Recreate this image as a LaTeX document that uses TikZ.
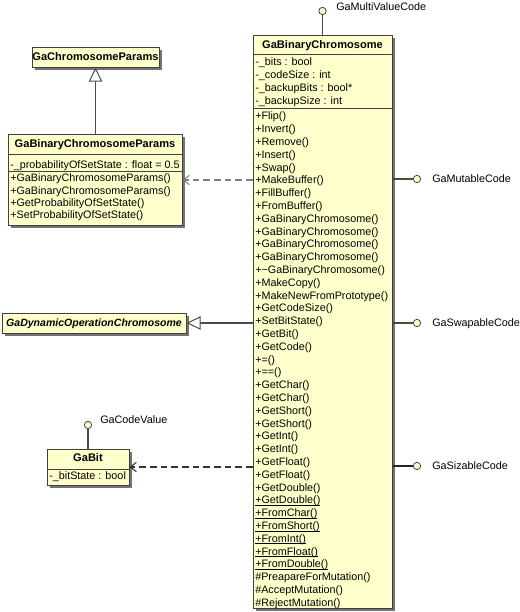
\documentclass[tikz,border=0pt]{standalone}
\usepackage{fontspec}
\setmainfont{Liberation Sans}
\usetikzlibrary{arrows.meta,fit,shadows}
\definecolor{boxfill}{HTML}{FFFFCC}
\definecolor{boxline}{HTML}{404040}
\newcommand\myul[1]{\setbox0\hbox{#1}\rlap{\rule[-1.5pt]{\wd0}{0.55pt}}\box0}
\tikzset{
 cls/.style={draw=boxline, fill=boxfill, line width=0.75pt, inner sep=0pt,
   drop shadow={fill=black!55, opacity=1, shadow xshift=2pt, shadow yshift=-2pt}},
 txt/.style={inner sep=0pt, anchor=base west, font=\fontsize{8.1pt}{9.6pt}\selectfont},
 ttl/.style={inner sep=0pt, anchor=base, font=\fontsize{8.3pt}{9.6pt}\selectfont\bfseries},
 lolli/.style={circle, draw=boxline, fill=boxfill, line width=0.6pt, minimum size=5.5pt, inner sep=0pt},
 sepline/.style={draw=boxline, line width=0.75pt},
 conn/.style={draw=black!70, line width=0.8pt},
 gen/.style={conn, -{Triangle[length=10.5pt,width=10pt,fill=white,line width=0.75pt]}},
 dep/.style={draw=black!50, line width=0.8pt, dash pattern=on 5pt off 3pt,
   -{Straight Barb[length=4.5pt,width=7pt]}},
}
\begin{document}
\begin{tikzpicture}[x=0.75pt,y=-0.75pt]
\useasboundingbox (0,0) rectangle (519,612);

% main class
\node[cls, fit={(253,35) (392,608)}] (main) {};
\draw[sepline] (253,54.5) -- (392,54.5);
\draw[sepline] (253,108.5) -- (392,108.5);
\node[ttl] (mainT) at (322.5,48.8) {GaBinaryChromosome};
\foreach \t [count=\i from 0] in {-\_bits : bool,-\_codeSize : int,-\_backupBits : bool*,-\_backupSize : int}
  \node[txt] (ma\i) at (255,{62+\i*12.8+3.8}) {\t};
\foreach \t [count=\i from 0] in {+Flip(),+Invert(),+Remove(),+Insert(),+Swap(),+MakeBuffer(),+FillBuffer(),+FromBuffer(),
  +GaBinaryChromosome(),+GaBinaryChromosome(),+GaBinaryChromosome(),+GaBinaryChromosome(),
  +\textasciitilde GaBinaryChromosome(),+MakeCopy(),+MakeNewFromPrototype(),+GetCodeSize(),+SetBitState(),
  +GetBit(),+GetCode(),+=(),+==(),+GetChar(),+GetChar(),+GetShort(),+GetShort(),+GetInt(),+GetInt(),
  +GetFloat(),+GetFloat(),+GetDouble(),\myul{+GetDouble()},\myul{+FromChar()},\myul{+FromShort()},
  \myul{+FromInt()},\myul{+FromFloat()},\myul{+FromDouble()},
  \#PreapareForMutation(),\#AcceptMutation(),\#RejectMutation()}
  \node[txt] (mm\i) at (255,{116+\i*12.8+3.8}) {\t};

% GaChromosomeParams
\node[cls, fit={(32,47) (159,67)}] (cparams) {};
\node[ttl] (cparamsT) at (95.5,60.8) {GaChromosomeParams};

% GaBinaryChromosomeParams
\node[cls, fit={(8,134) (182,225)}] (params) {};
\draw[sepline] (8,154.5) -- (182,154.5);
\draw[sepline] (8,171) -- (182,171);
\node[ttl] (paramsT) at (95,147.8) {GaBinaryChromosomeParams};
\node[txt] (pa0) at (10,168.3) {-\_probabilityOfSetState : float = 0.5};
\foreach \t [count=\i from 0] in {+GaBinaryChromosomeParams(),+GaBinaryChromosomeParams(),+GetProbabilityOfSetState(),+SetProbabilityOfSetState()}
  \node[txt] (pm\i) at (10,{178+\i*12.2+3.8}) {\t};

% GaDynamicOperationChromosome
\node[cls, fit={(2,313) (186,333)}] (dyn) {};
\node[ttl, font=\fontsize{7.9pt}{9.6pt}\selectfont\bfseries\itshape] (dynT) at (94,326.8) {GaDynamicOperationChromosome};

% GaBit
\node[cls, fit={(47,449) (129,485)}] (gabit) {};
\draw[sepline] (47,469) -- (129,469);
\node[ttl] (gabitT) at (88,461.8) {GaBit};
\node[txt] (gabitA) at (49,479.8) {-\_bitState : bool};

% lollipops
\node[lolli] (lpM) at (322.5,11) {};
\node[txt] (lpMT) at (336,10.8) {GaMultiValueCode};
\node[lolli] (lpA) at (417,179) {};
\node[txt] (lpAT) at (432,182.8) {GaMutableCode};
\node[lolli] (lpB) at (417,323) {};
\node[txt] (lpBT) at (432,326.8) {GaSwapableCode};
\node[lolli] (lpC) at (417,466) {};
\node[txt] (lpCT) at (432,469.8) {GaSizableCode};
\node[lolli] (lpD) at (88,425) {};
\node[txt] (lpDT) at (100,423.8) {GaCodeValue};

\draw[conn] (lpM) -- (lpM |- main.north);
\draw[conn] (lpA) -- (main.east |- lpA);
\draw[conn] (lpB) -- (main.east |- lpB);
\draw[conn, draw=black!85] (lpC) -- (main.east |- lpC);
\draw[conn] (lpD) -- (lpD |- gabit.north);

% generalizations
\draw[gen] (cparams.south |- params.north) -- (cparams.south);
\draw[gen] (main.west |- dyn.east) -- (dyn.east);

% dependencies
\coordinate (d1) at (0,180);
\coordinate (d2) at (0,467);
\draw[dep] (main.west |- d1) -- (params.east |- d1);
\draw[dep, draw=black!80] (main.west |- d2) -- (gabit.east |- d2);
\end{tikzpicture}
\end{document}
